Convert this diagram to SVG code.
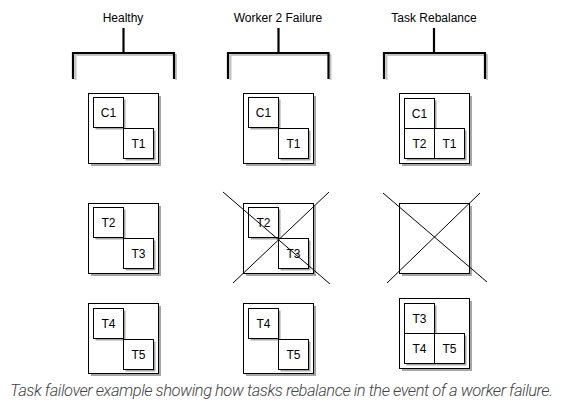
<svg xmlns="http://www.w3.org/2000/svg" width="566" height="412" viewBox="0 0 566 412">
<style>
.hdr{font-family:"Liberation Sans",Arial,sans-serif;font-size:12px;fill:#000;text-anchor:middle}
.lbl{font-family:"Liberation Sans",Arial,sans-serif;font-size:12px;fill:#000;text-anchor:middle}
.box{fill:#fff;stroke:#000;stroke-width:1}
.sh{fill:#a6a6a6}
.br{fill:none;stroke:#000;stroke-width:2.2}
.brs{fill:none;stroke:#c4c4c4;stroke-width:2}
.x{stroke:#000;stroke-width:1;fill:none}
.cap{font-family:Roboto,"Liberation Sans",sans-serif;font-style:italic;font-weight:300;font-size:16.5px;fill:#444}
</style>
<defs>
<g id="outer"><rect class="sh" x="3" y="3" width="70" height="70"/><rect class="box" x="0.5" y="0.5" width="70" height="70"/></g>
<g id="inner"><rect class="sh" x="2.5" y="2.5" width="30" height="30"/><rect class="box" x="0.5" y="0.5" width="30" height="30"/></g>
</defs>
<rect width="566" height="412" fill="#fff"/>

<text class="hdr" x="123" y="22">Healthy</text>
<text class="hdr" x="278" y="22">Worker 2 Failure</text>
<text class="hdr" x="434" y="22">Task Rebalance</text>

<g id="connectors">
<path class="brs" d="M75.5,80 V55 H176 V80"/>
<path class="br" d="M73,79 V53 H174 V79 M123.5,28 V53"/>
<path class="brs" d="M230.5,80 V55 H330.5 V80"/>
<path class="br" d="M228,79 V53 H328.5 V79 M278.5,28 V53"/>
<path class="brs" d="M386.5,80 V55 H487 V80"/>
<path class="br" d="M384,79 V53 H485 V79 M434,28 V53"/>
</g>

<g id="healthy-w1">
<use href="#outer" x="88" y="93"/>
<use href="#inner" x="93" y="97"/><text class="lbl" x="108.5" y="117">C1</text>
<use href="#inner" x="123" y="128"/><text class="lbl" x="138.5" y="148">T1</text>
</g>
<g id="healthy-w2">
<use href="#outer" x="88" y="203"/>
<use href="#inner" x="93" y="207"/><text class="lbl" x="108.5" y="227">T2</text>
<use href="#inner" x="123" y="238"/><text class="lbl" x="138.5" y="258">T3</text>
</g>
<g id="healthy-w3">
<use href="#outer" x="88" y="303"/>
<use href="#inner" x="93" y="308"/><text class="lbl" x="108.5" y="328">T4</text>
<use href="#inner" x="123" y="339"/><text class="lbl" x="138.5" y="359">T5</text>
</g>

<g id="failure-w1">
<use href="#outer" x="243" y="93"/>
<use href="#inner" x="248" y="97"/><text class="lbl" x="263.5" y="117">C1</text>
<use href="#inner" x="278" y="128"/><text class="lbl" x="293.5" y="148">T1</text>
</g>
<g id="failure-w2">
<use href="#outer" x="243" y="203"/>
<use href="#inner" x="248" y="207"/><text class="lbl" x="263.5" y="227">T2</text>
<use href="#inner" x="278" y="238"/><text class="lbl" x="293.5" y="258">T3</text>
<line class="x" x1="223" y1="192" x2="330" y2="284"/>
<line class="x" x1="329" y1="192" x2="233" y2="283"/>
</g>
<g id="failure-w3">
<use href="#outer" x="243" y="303"/>
<use href="#inner" x="248" y="308"/><text class="lbl" x="263.5" y="328">T4</text>
<use href="#inner" x="278" y="339"/><text class="lbl" x="293.5" y="359">T5</text>
</g>

<g id="rebalance-w1">
<use href="#outer" x="399" y="93"/>
<use href="#inner" x="404" y="98"/><text class="lbl" x="419.5" y="118">C1</text>
<use href="#inner" x="404" y="128"/><text class="lbl" x="419.5" y="148">T2</text>
<use href="#inner" x="434" y="128"/><text class="lbl" x="449.5" y="148">T1</text>
</g>
<g id="rebalance-w2">
<use href="#outer" x="399" y="203"/>
<line class="x" x1="383" y1="193" x2="487" y2="282"/>
<line class="x" x1="480" y1="193" x2="387" y2="283"/>
</g>
<g id="rebalance-w3">
<use href="#outer" x="399" y="298"/>
<use href="#inner" x="404" y="303"/><text class="lbl" x="419.5" y="323">T3</text>
<use href="#inner" x="404" y="333"/><text class="lbl" x="419.5" y="353">T4</text>
<use href="#inner" x="434" y="333"/><text class="lbl" x="449.5" y="353">T5</text>
</g>

<text class="cap" x="10" y="396" textLength="543" lengthAdjust="spacing">Task failover example showing how tasks rebalance in the event of a worker failure.</text>
</svg>
